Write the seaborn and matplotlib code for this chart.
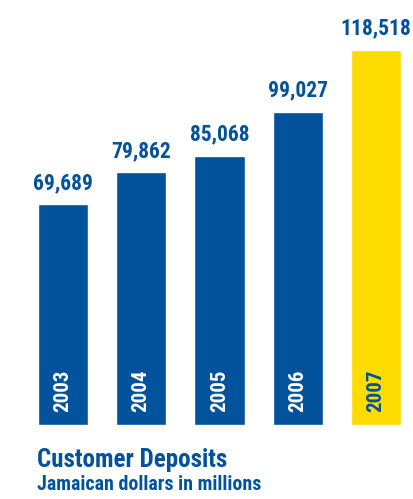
import matplotlib
matplotlib.use("Agg")
import matplotlib.pyplot as plt
import seaborn as sns
import pandas as pd

years = ["2003", "2004", "2005", "2006", "2007"]
deposits = [69689, 79862, 85068, 99027, 118518]
highlight = ["base", "base", "base", "base", "current"]

BLUE = "#03529c"
YELLOW = "#ffdc00"
FONT = ["Roboto Condensed", "DejaVu Sans"]

df = pd.DataFrame({"year": years, "value": deposits, "kind": highlight})

sns.set_theme(style="white")
plt.rcParams["font.family"] = FONT

fig = plt.figure(figsize=(4.13, 4.99), dpi=100)
ax = fig.add_axes([0, 74 / 499, 1, 425 / 499])
sns.barplot(data=df, x="year", y="value", hue="kind",
            palette={"base": BLUE, "current": YELLOW},
            width=0.64, dodge=False, legend=False, ax=ax, saturation=1)

ax.set_xlim(-0.80, 4.47)
ax.set_ylim(0, 134300)
ax.axis("off")

for i, (y, v, k) in enumerate(zip(years, deposits, highlight)):
    ax.annotate(f"{v:,}", (i, v), xytext=(0, 7.5), textcoords="offset points",
                ha="center", va="bottom", color=BLUE, fontsize=15.5,
                fontweight="bold")
    ax.annotate(y, (i, 0), xytext=(0, 9), textcoords="offset points",
                ha="center", va="bottom", rotation=90,
                color=BLUE if k == "current" else "white",
                fontsize=15, fontweight="bold")

fig.text(37 / 413, 1 - 467 / 499, "Customer Deposits", color=BLUE,
         fontsize=18, fontweight="bold", ha="left", va="baseline")
fig.text(37 / 413, 1 - 490 / 499, "Jamaican dollars in millions", color=BLUE,
         fontsize=14.3, fontweight="bold", ha="left", va="baseline")

fig.savefig("out.png", dpi=100)
